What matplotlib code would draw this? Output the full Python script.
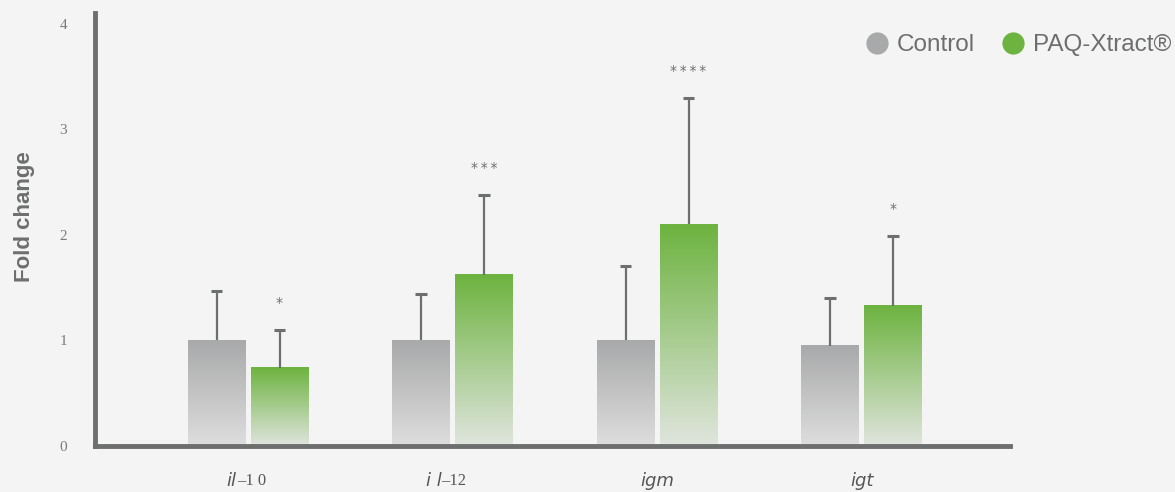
import numpy as np
import matplotlib
matplotlib.use("Agg")
import matplotlib.pyplot as plt
from matplotlib.colors import LinearSegmentedColormap
from matplotlib.lines import Line2D

# Data
genes = ["il", "i l", "igm", "igt"]
gene_suffix = ["\u20131 0", "\u201312", "", ""]
control_mean = [1.00, 1.00, 1.00, 0.95]
control_err = [0.47, 0.44, 0.70, 0.45]
paq_mean = [0.74, 1.62, 2.10, 1.33]
paq_err = [0.36, 0.76, 1.20, 0.66]
significance = ["*", "***", "****", "*"]
yticks = [0, 1, 2, 3, 4]

BG = "#f3f4f3"
AXIS = "#6d6e6e"
GRAY_TOP, GRAY_BOT = "#a8a9aa", "#dedede"
GREEN_TOP, GREEN_BOT = "#6db33f", "#e0e5de"

fig = plt.figure(figsize=(11.75, 4.92), dpi=100, facecolor=BG)
ax = fig.add_axes([0.0809, 0.0935, 0.7787, 0.880], facecolor=BG)

x = np.arange(len(genes))
w = 0.28
off = 0.154
cap = 0.028

def gradient_bar(ax, xc, h, top, bot):
    cmap = LinearSegmentedColormap.from_list("g", [bot, top])
    grad = np.linspace(0, 1, 256).reshape(-1, 1)
    ax.imshow(grad, cmap=cmap, origin="lower", aspect="auto",
              extent=[xc - w / 2, xc + w / 2, 0, h], zorder=2,
              interpolation="bilinear")

def upper_error(ax, xs, means, errs):
    tops = np.asarray(means) + np.asarray(errs)
    ax.vlines(xs, means, tops, color=AXIS, linewidth=1.6, zorder=3)
    ax.hlines(tops, xs - cap, xs + cap, color=AXIS, linewidth=2.2, zorder=3)

for i in range(len(genes)):
    gradient_bar(ax, x[i] - off, control_mean[i], GRAY_TOP, GRAY_BOT)
    gradient_bar(ax, x[i] + off, paq_mean[i], GREEN_TOP, GREEN_BOT)

upper_error(ax, x - off, control_mean, control_err)
upper_error(ax, x + off, paq_mean, paq_err)

for i, s in enumerate(significance):
    top = paq_mean[i] + paq_err[i]
    ax.text(x[i] + off, top + 0.25, "\u2009".join(s),
            ha="center", va="center", fontsize=10, color=AXIS,
            family="DejaVu Sans")

ax.set_xlim(-0.748, 3.726)
ax.set_ylim(0, 4.1)

for side in ("top", "right"):
    ax.spines[side].set_visible(False)
for side in ("left", "bottom"):
    ax.spines[side].set_color(AXIS)
    ax.spines[side].set_linewidth(3.5)

ax.set_yticks(yticks)
ax.set_yticklabels([str(t) for t in yticks], family="Liberation Serif",
                   fontsize=11, color="#7a7b7b")
ax.tick_params(axis="y", length=0, pad=20)
ax.set_xticks([])

# Gene labels: italic name with a serif numeric suffix
ly = -25
for i in range(len(genes)):
    if gene_suffix[i]:
        xs = x[i] - 0.055
        ax.annotate(genes[i], xy=(xs, 0), xycoords=("data", "axes fraction"),
                    xytext=(0, ly), textcoords="offset points", ha="right", va="center",
                    fontsize=13, style="italic", color="#555656", family="DejaVu Sans")
        ax.annotate(gene_suffix[i], xy=(xs, 0), xycoords=("data", "axes fraction"),
                    xytext=(0, ly), textcoords="offset points", ha="left", va="center",
                    fontsize=12, color="#555656", family="Liberation Serif")
    else:
        ax.annotate(genes[i], xy=(x[i], 0), xycoords=("data", "axes fraction"),
                    xytext=(0, ly), textcoords="offset points", ha="center", va="center",
                    fontsize=13, style="italic", color="#555656", family="DejaVu Sans")

ax.set_ylabel("Fold change", fontsize=16, fontweight="bold", color=AXIS,
              family="Liberation Sans")
ax.yaxis.set_label_coords(-0.066, 0.529)

handles = [
    Line2D([], [], marker="o", linestyle="none", markersize=16,
           markerfacecolor=GRAY_TOP, markeredgecolor="none", label="Control"),
    Line2D([], [], marker="o", linestyle="none", markersize=16,
           markerfacecolor=GREEN_TOP, markeredgecolor="none", label="PAQ-Xtract\u00ae"),
]
leg = fig.legend(handles=handles, loc="center right", bbox_to_anchor=(1.005, 0.908),
                 ncol=2, frameon=False, handletextpad=0.1, columnspacing=0.9,
                 handlelength=1.4, borderaxespad=0.0,
                 prop={"family": "Liberation Sans", "size": 17.5})
for t in leg.get_texts():
    t.set_color(AXIS)

fig.savefig("out.png", dpi=100, facecolor=BG)
